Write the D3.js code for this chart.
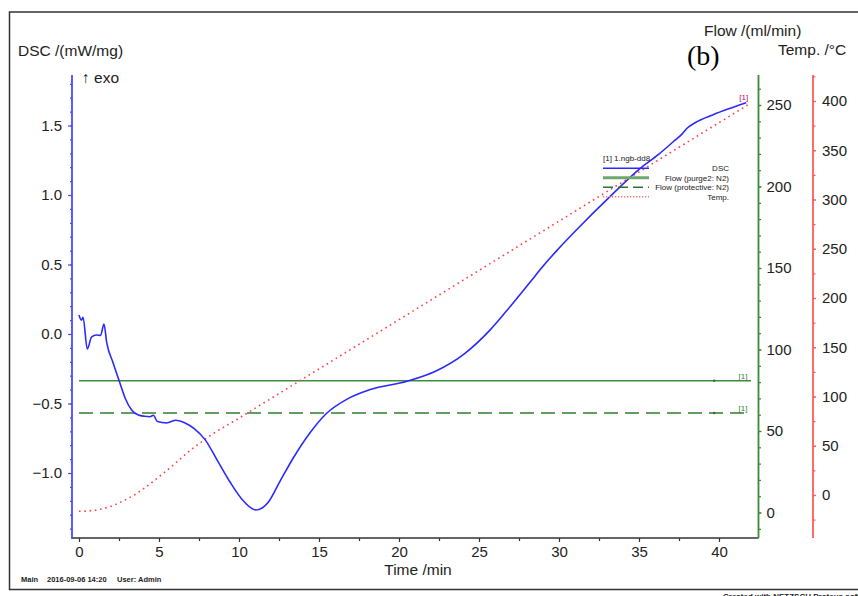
<!DOCTYPE html>
<html lang="en">
<head>
  <meta charset="UTF-8">
  <title>DSC (b)</title>
  <style>
    body { margin: 0; background: #fff; font-family: "Liberation Sans", Arial, sans-serif; }
    svg text { fill: #222; }
    .tick text { font-size: 15px; }
    .title { font-size: 15.5px; }
    .legend text { font-size: 8px; }
  </style>
</head>
<body>
  <div id="chart"></div>
  <script src="https://d3js.org/d3.v7.min.js"></script>
  <script>
    // DSC curve (time in min, DSC in mW/mg)
    const dscTime = [0, 0.15, 0.25, 0.52, 0.79, 1.1, 1.35, 1.56, 1.73, 2.14, 2.52, 2.88, 3.29, 3.71, 4.1, 4.44, 4.65, 4.9, 5.48, 6.06, 6.63, 7.2, 7.88, 8.6, 9.44, 10.27, 11.06, 11.83, 12.56, 13.4, 14.44, 15.48, 16.73, 18.2, 20.5, 22.35, 24.0, 25.7, 26.94, 28.3, 28.8, 29.86, 31.1, 33.2, 35.06, 36.2, 37.14, 37.7, 38.0, 38.5, 39.6, 40.6, 41.7];
    const dscValue = [0.137, 0.10, 0.12, -0.108, -0.02, -0.007, -0.01, 0.072, -0.06, -0.21, -0.34, -0.46, -0.547, -0.583, -0.592, -0.595, -0.585, -0.63, -0.64, -0.62, -0.64, -0.68, -0.76, -0.90, -1.065, -1.20, -1.266, -1.21, -1.06, -0.89, -0.71, -0.57, -0.47, -0.40, -0.34, -0.264, -0.15, 0.03, 0.196, 0.388, 0.46, 0.60, 0.75, 0.99, 1.19, 1.29, 1.383, 1.44, 1.48, 1.52, 1.576, 1.62, 1.664];

    // temperature programme (°C)
    const tempTime = [0, 0.5, 1, 1.5, 2, 2.5, 3, 3.5, 4, 4.5, 5, 5.5, 6, 6.5, 7, 7.5, 8, 10, 20, 30, 42];
    const tempValue = [-16.5, -16.3, -15.5, -13.8, -11.5, -8, -4, 0.5, 6, 12, 18.5, 25, 32, 39, 46, 52, 58, 78, 178, 278, 398];

    // gas flows (ml/min)
    const flowTime = [0, 42];
    const purgeFlow = [80.8, 80.8];
    const protectiveFlow = [61, 61];

    // axis ticks
    const timeTicks = [0, 5, 10, 15, 20, 25, 30, 35, 40];
    const dscTicks = [-1.0, -0.5, 0.0, 0.5, 1.0, 1.5];
    const flowTicks = [0, 50, 100, 150, 200, 250];
    const tempTicks = [0, 50, 100, 150, 200, 250, 300, 350, 400];

    const legendItems = ["DSC", "Flow (purge2: N2)", "Flow (protective: N2)", "Temp."];

    const width = 858, height = 596;
    const axisTop = 75, axisBottom = 538;

    const svg = d3.select("#chart").append("svg")
      .attr("width", width)
      .attr("height", height);

    // frame
    svg.append("path")
      .attr("d", `M${width + 5},12 H9.5 V589.5 H${width + 5}`)
      .attr("fill", "none")
      .attr("stroke", "#333")
      .attr("stroke-width", 1.5);

    // scales
    const x = d3.scaleLinear().domain([0, 40]).range([79, 719]);
    const yDsc = d3.scaleLinear().domain([0, 0.5]).range([334, 264.5]);
    const yFlow = d3.scaleLinear().domain([0, 250]).range([512.5, 105]);
    const yTemp = d3.scaleLinear().domain([0, 400]).range([495, 101]);

    const xLeft = 72, xGreen = 758.5, xRed = 813;

    function styleAxis(g, color) {
      g.select(".domain").remove();
      g.selectAll(".tick line").attr("stroke", color).attr("stroke-width", 1.2);
      g.selectAll(".tick text").attr("fill", "#222");
    }

    // x axis
    svg.append("line")
      .attr("x1", xLeft).attr("x2", xGreen)
      .attr("y1", axisBottom).attr("y2", axisBottom)
      .attr("stroke", "#333").attr("stroke-width", 1.5);
    svg.append("g")
      .attr("transform", `translate(0,${axisBottom})`)
      .call(d3.axisBottom(x).tickValues(d3.range(2.5, 42, 5)).tickSize(3).tickFormat(""))
      .call(g => styleAxis(g, "#333"));
    svg.append("g")
      .attr("transform", `translate(0,${axisBottom})`)
      .call(d3.axisBottom(x).tickValues(timeTicks).tickSize(4).tickPadding(4).tickFormat(d3.format("d")))
      .call(g => styleAxis(g, "#333"));

    // DSC axis (blue)
    svg.append("line")
      .attr("x1", xLeft).attr("x2", xLeft).attr("y1", axisTop).attr("y2", axisBottom + 1)
      .attr("stroke", "#4a4aff").attr("stroke-width", 1.8);
    svg.append("g")
      .attr("transform", `translate(${xLeft},0)`)
      .call(d3.axisLeft(yDsc).tickValues(d3.range(-14, 19).map(d => d / 10)).tickSize(2).tickFormat(""))
      .call(g => styleAxis(g, "#4a4aff"));
    svg.append("g")
      .attr("transform", `translate(${xLeft},0)`)
      .call(d3.axisLeft(yDsc).tickValues(dscTicks).tickSize(4).tickPadding(6).tickFormat(d3.format(".1f")))
      .call(g => styleAxis(g, "#4a4aff"));

    // flow axis (green)
    svg.append("line")
      .attr("x1", xGreen).attr("x2", xGreen).attr("y1", axisTop).attr("y2", axisBottom)
      .attr("stroke", "#3a8a3a").attr("stroke-width", 1.8);
    svg.append("g")
      .attr("transform", `translate(${xGreen},0)`)
      .call(d3.axisRight(yFlow).tickValues(d3.range(-10, 261, 10)).tickSize(2.5).tickFormat(""))
      .call(g => styleAxis(g, "#3a8a3a"));
    svg.append("g")
      .attr("transform", `translate(${xGreen},0)`)
      .call(d3.axisRight(yFlow).tickValues(flowTicks).tickSize(3).tickPadding(5))
      .call(g => styleAxis(g, "#3a8a3a"));

    // temperature axis (red)
    svg.append("line")
      .attr("x1", xRed).attr("x2", xRed).attr("y1", axisTop).attr("y2", axisBottom)
      .attr("stroke", "#ff5a5a").attr("stroke-width", 1.8);
    svg.append("g")
      .attr("transform", `translate(${xRed},0)`)
      .call(d3.axisRight(yTemp).tickValues(d3.range(-25, 426, 25)).tickSize(2.5).tickFormat(""))
      .call(g => styleAxis(g, "#ff5a5a"));
    svg.append("g")
      .attr("transform", `translate(${xRed},0)`)
      .call(d3.axisRight(yTemp).tickValues(tempTicks).tickSize(3).tickPadding(6))
      .call(g => styleAxis(g, "#ff5a5a"));

    // titles
    svg.append("text").attr("class", "title").attr("x", 18).attr("y", 56).text("DSC /(mW/mg)");
    svg.append("text").attr("class", "title").attr("x", 82).attr("y", 83).text("\u2191 exo");
    svg.append("text").attr("class", "title").attr("x", 704).attr("y", 36).text("Flow /(ml/min)");
    svg.append("text").attr("class", "title").attr("x", 778).attr("y", 55).text("Temp. /\u00b0C");
    svg.append("text").attr("class", "title").attr("x", 418).attr("y", 575).attr("text-anchor", "middle").text("Time /min");
    svg.append("text")
      .attr("x", 687).attr("y", 65)
      .style("font-family", "'Liberation Serif', 'Times New Roman', serif")
      .style("font-size", "28px")
      .style("fill", "#000")
      .text("(b)");

    // footer
    const foot = svg.append("g").style("font-size", "7.5px").style("font-weight", "bold");
    foot.append("text").attr("x", 21).attr("y", 582).text("Main");
    foot.append("text").attr("x", 47).attr("y", 582).text("2016-09-06 14:20");
    foot.append("text").attr("x", 117).attr("y", 582).text("User: Admin");
    svg.append("text").attr("x", 723).attr("y", 599)
      .style("font-size", "8px").style("font-weight", "bold")
      .text("Created with NETZSCH Proteus software");

    // curves
    const line = (ys) => d3.line().x(d => x(d[0])).y(d => ys(d[1])).curve(d3.curveMonotoneX);

    svg.append("path")
      .datum(flowTime.map((t, i) => [t, purgeFlow[i]]))
      .attr("d", line(yFlow))
      .attr("fill", "none").attr("stroke", "#3f8c3f").attr("stroke-width", 1.6);
    svg.append("path")
      .datum(flowTime.map((t, i) => [t, protectiveFlow[i]]))
      .attr("d", line(yFlow))
      .attr("fill", "none").attr("stroke", "#2f7f2f").attr("stroke-width", 1.6)
      .attr("stroke-dasharray", "14,7");

    svg.append("path")
      .datum(tempTime.map((t, i) => [t, tempValue[i]]))
      .attr("d", line(yTemp))
      .attr("fill", "none").attr("stroke", "#ff4040").attr("stroke-width", 1.6)
      .attr("stroke-dasharray", "1.6,3.7");

    svg.append("path")
      .datum(dscTime.map((t, i) => [t, dscValue[i]]))
      .attr("d", line(yDsc))
      .attr("fill", "none").attr("stroke", "#2a2aff").attr("stroke-width", 1.6);

    // little markers at the end of the flow curves
    [purgeFlow, protectiveFlow].forEach(f => {
      svg.append("circle").attr("cx", x(39.7)).attr("cy", yFlow(f[0])).attr("r", 1.2).attr("fill", "#2f6f2f");
    });

    // [1] curve labels
    const tag = svg.append("g").style("font-size", "8px");
    tag.append("text").attr("x", x(41.5)).attr("y", yFlow(purgeFlow[1]) - 2).attr("text-anchor", "middle").style("fill", "#2f7f2f").text("[1]");
    tag.append("text").attr("x", x(41.5)).attr("y", yFlow(protectiveFlow[1]) - 2).attr("text-anchor", "middle").style("fill", "#2f7f2f").text("[1]");
    tag.append("text").attr("x", x(41.55)).attr("y", yTemp(tempValue[tempValue.length - 1]) - 3).attr("text-anchor", "middle").style("fill", "#c8006a").text("[1]");

    // legend
    const legend = svg.append("g").attr("class", "legend");
    legend.append("text").attr("x", 603).attr("y", 160.5).text("[1] 1.ngb-dd8");
    const legendY = [168.3, 177.7, 187.3, 196.7];
    const legendStyle = [
      { color: "#2a2aff", w: 1.5, dash: null },
      { color: "#6fa86f", w: 3, dash: null },
      { color: "#2f6f2f", w: 1.5, dash: "10,5" },
      { color: "#ff7070", w: 1.5, dash: "1.3,1.7" }
    ];
    legendItems.forEach((name, i) => {
      legend.append("line")
        .attr("x1", 603).attr("x2", 649)
        .attr("y1", legendY[i]).attr("y2", legendY[i])
        .attr("stroke", legendStyle[i].color)
        .attr("stroke-width", legendStyle[i].w)
        .attr("stroke-dasharray", legendStyle[i].dash);
      legend.append("text")
        .attr("x", 729).attr("y", legendY[i] + 3)
        .attr("text-anchor", "end")
        .text(name);
    });
  </script>
</body>
</html>
